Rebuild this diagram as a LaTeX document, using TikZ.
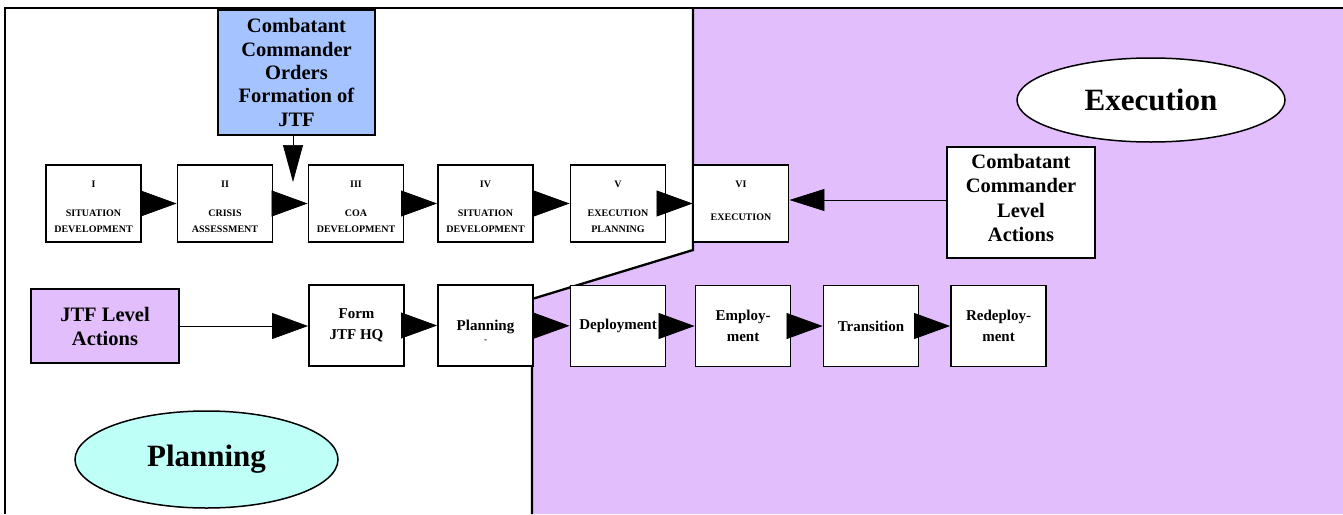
\documentclass[tikz,border=0pt]{standalone}
\usepackage{fontspec}
\setmainfont{Liberation Serif}
\usetikzlibrary{arrows.meta,shapes.geometric}
\definecolor{execpurple}{RGB}{226,190,253}
\definecolor{ordersblue}{RGB}{165,195,255}
\definecolor{plancyan}{RGB}{190,255,248}
\newcommand\numstrut{\rule{0pt}{12.5pt}}
\tikzset{
  stagebox/.style={draw,line width=1.9pt,fill=white,inner sep=0pt,align=center,
    minimum width=95pt,minimum height=77pt,font=\bfseries\fontsize{10}{16}\selectfont},
  actbox/.style={draw,line width=1.9pt,fill=white,inner sep=0pt,align=center,
    minimum width=95pt,minimum height=81pt,font=\bfseries\fontsize{15}{21}\selectfont},
  bigbox/.style={draw,line width=1.9pt,inner sep=0pt,align=center,
    font=\bfseries\fontsize{20.5}{24}\selectfont},
  phase/.style={draw,ellipse,line width=1.5pt,inner sep=0pt,font=\bfseries\fontsize{31}{31}\selectfont},
  bigarrow/.style={-{Triangle[length=36pt,width=26pt]},line width=0.7pt},
  thinarrow/.style={-{Triangle[length=35pt,width=22pt]},line width=0.7pt},
  border/.style={line width=2.3pt,line join=miter}
}
\begin{document}
\begin{tikzpicture}[x=1pt,y=-1pt]
\useasboundingbox (0,0) rectangle (1343,514);
% execution region
\fill[execpurple] (693,8) -- (1343,8) -- (1343,514) -- (532,514) -- (532,299) -- (693,250) -- cycle;
\draw[border] (5,514) -- (5,8) -- (1343,8);
\draw[border] (693,8) -- (693,250) -- (532,299) -- (532,514);
% phase ellipses
\node[phase,fill=white,minimum width=268pt,minimum height=84pt] (execution) at (1151,100) {Execution};
\node[phase,fill=plancyan,minimum width=263pt,minimum height=97pt] (planning) at (206.5,459.5) {Planning};
% top row
\node[stagebox] (s1) at (93.5,203.5) {\numstrut I\\[13pt]SITUATION\\DEVELOPMENT};
\node[stagebox] (s2) at (225,203.5) {\numstrut II\\[13pt]CRISIS\\ASSESSMENT};
\node[stagebox] (s3) at (356,203.5) {\numstrut III\\[13pt]COA\\DEVELOPMENT};
\node[stagebox] (s4) at (485.5,203.5) {\numstrut IV\\[13pt]SITUATION\\DEVELOPMENT};
\node[stagebox] (s5) at (618,203.5) {\numstrut V\\[13pt]EXECUTION\\PLANNING};
\node[stagebox] (s6) at (741,203.5) {VI\\[17pt]EXECUTION\rule[-5pt]{0pt}{5pt}};
% big boxes
\node[bigbox,fill=ordersblue,minimum width=157pt,minimum height=125pt,
  font=\bfseries\fontsize{20.5}{23.3}\selectfont] (orders) at (296.5,72.5)
  {Combatant\\Commander\\Orders\\Formation of\\JTF};
\node[bigbox,fill=white,minimum width=148pt,minimum height=111pt,
  font=\bfseries\fontsize{20.5}{24.5}\selectfont] (cclevel) at (1021,202.5)
  {Combatant\\Commander\\Level\\Actions\rule[-9pt]{0pt}{9pt}};
\node[bigbox,fill=execpurple,minimum width=148pt,minimum height=74pt] (jtf) at (105,326)
  {JTF Level\\Actions};
% second row
\node[actbox] (form) at (356.5,325.5) {Form\\JTF HQ};
\node[actbox] (plan) at (485.5,325.5) {\rule{0pt}{21pt}Planning\\[-9pt]{\fontsize{9}{9}\selectfont -}};
\node[actbox] (dep) at (618,326) {Deployment};
\node[actbox] (emp) at (743,326) {Employ-\\ment};
\node[actbox] (tr) at (871,326) {Transition};
\node[actbox] (redep) at (998.5,326) {Redeploy-\\ment};
% connectors
\coordinate (dn) at (293,182);
\coordinate (ccin) at (0,200);
\draw[thinarrow,-{Triangle[length=37pt,width=20pt]}] (orders.south -| dn) -- (dn);
\draw[bigarrow] (s1) -- (s2);
\draw[bigarrow] (s2) -- (s3);
\draw[bigarrow] (s3) -- (s4);
\draw[bigarrow] (s4) -- (s5);
\draw[bigarrow] (s5) -- (s6);
\draw[thinarrow] (cclevel.west |- ccin) -- (s6.east |- ccin);
\draw[bigarrow] (jtf.east) -- (form.west |- jtf.east);
\draw[bigarrow] (form) -- (plan);
\draw[bigarrow] (plan) -- (dep);
\draw[bigarrow] (dep) -- (emp);
\draw[bigarrow] (emp) -- (tr);
\draw[bigarrow] (tr) -- (redep);
\end{tikzpicture}
\end{document}
